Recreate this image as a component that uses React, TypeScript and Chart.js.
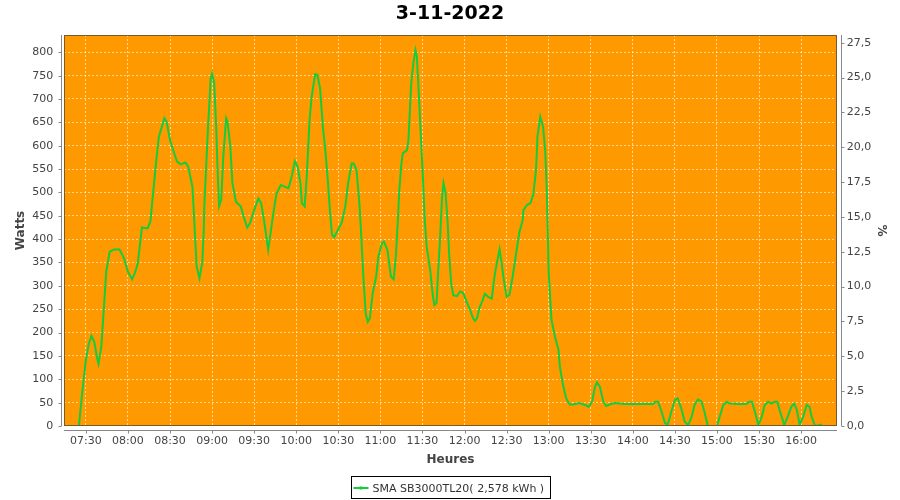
import React, { useEffect, useRef } from "react";
import { Chart, registerables } from "chart.js";

Chart.register(...registerables);

const TITLE = "3-11-2022";
const SERIES_LABEL = "SMA SB3000TL20( 2,578 kWh )";
const X_TITLE = "Heures";
const Y_TITLE = "Watts";
const Y2_TITLE = "%";

const TIMES = [
  "07:25", "07:27", "07:30", "07:32", "07:34", "07:36", "07:38", "07:39", "07:41", "07:43",
  "07:44:30", "07:47", "07:50", "07:54", "07:57", "08:00", "08:03", "08:05", "08:07", "08:10",
  "08:14", "08:16", "08:18", "08:20", "08:22", "08:26", "08:27:30", "08:30", "08:33", "08:35",
  "08:37:30", "08:41", "08:43", "08:46", "08:49", "08:51", "08:53", "08:54", "08:54:30", "08:57",
  "08:59", "09:00", "09:01:30", "09:03", "09:04", "09:05", "09:06:30", "09:08", "09:10", "09:11",
  "09:13", "09:14:30", "09:17", "09:20:30", "09:22:30", "09:25", "09:27", "09:30", "09:33", "09:35",
  "09:37", "09:40", "09:44", "09:46", "09:49", "09:52", "09:54:30", "09:57", "09:59", "10:01",
  "10:03", "10:04", "10:06", "10:07:30", "10:09:30", "10:11", "10:13:30", "10:15", "10:17", "10:19",
  "10:20:30", "10:22:30", "10:24", "10:25:30", "10:27", "10:30", "10:32:30", "10:35", "10:37", "10:39:30",
  "10:41", "10:43", "10:45", "10:46", "10:48", "10:49:30", "10:51", "10:52:30", "10:54:30", "10:57",
  "10:58:30", "11:01", "11:02:30", "11:05", "11:07:30", "11:09:30", "11:11", "11:12:30", "11:13:30", "11:15",
  "11:16", "11:19", "11:20", "11:22", "11:23:30", "11:25", "11:26", "11:27:30", "11:29", "11:30:30",
  "11:31:30", "11:33", "11:35:30", "11:37:30", "11:38:30", "11:40", "11:41", "11:42:30", "11:44", "11:45",
  "11:46:30", "11:48", "11:49", "11:50:30", "11:52", "11:54:30", "11:57", "11:59", "12:01:30", "12:04",
  "12:06", "12:07:30", "12:09", "12:10:30", "12:13", "12:14:30", "12:17", "12:19:30", "12:21", "12:23",
  "12:25", "12:26:30", "12:28", "12:30", "12:32", "12:34:30", "12:37", "12:39", "12:41:30", "12:42",
  "12:44:30", "12:47", "12:49", "12:51", "12:52", "12:54", "12:56", "12:57:30", "12:58:30", "12:59:30",
  "13:00", "13:02", "13:04:30", "13:07", "13:08", "13:10", "13:12:30", "13:15", "13:17:30", "13:22",
  "13:26", "13:28:30", "13:31", "13:33", "13:34:30", "13:36:30", "13:39", "13:41", "13:43:30", "13:47",
  "13:54", "14:01", "14:08", "14:14:30", "14:16", "14:18", "14:20:30", "14:23", "14:25", "14:27:30",
  "14:30", "14:32", "14:34:30", "14:37", "14:39:30", "14:42", "14:44", "14:46:30", "14:49", "14:51",
  "14:53:30", "15:00", "15:02", "15:04:30", "15:07", "15:09", "15:16", "15:21", "15:23", "15:25",
  "15:27", "15:29:30", "15:32", "15:34", "15:36:30", "15:39", "15:41", "15:43", "15:45", "15:48",
  "15:50:30", "15:53", "15:55", "15:57", "15:59", "16:01:30", "16:04", "16:06", "16:07:30", "16:10",
  "16:15",
];

const WATTS = [
  0, 60, 141, 175, 193, 180, 145, 133, 170, 260,
  330, 373, 378, 378, 360, 330, 314, 328, 348, 425,
  423, 438, 500, 562, 619, 659, 652, 612, 584, 566,
  560, 564, 555, 512, 341, 316, 350, 413, 473, 634,
  744, 754, 734, 634, 541, 470, 484, 577, 659, 652,
  598, 520, 480, 470, 448, 425, 434, 462, 487, 477,
  441, 377, 462, 498, 516, 512, 509, 537, 567, 555,
  520, 477, 470, 534, 655, 705, 753, 752, 723, 641,
  598, 527, 462, 409, 404, 421, 436, 470, 520, 562,
  562, 548, 477, 427, 313, 241, 223, 231, 284, 320,
  362, 390, 395, 377, 320, 314, 362, 441, 505, 562,
  584, 591, 612, 734, 776, 805, 791, 705, 612, 520,
  448, 384, 334, 277, 259, 263, 320, 398, 491, 520,
  498, 434, 370, 305, 280, 278, 288, 285, 266, 248,
  231, 225, 231, 252, 270, 283, 276, 273, 313, 348,
  378, 348, 313, 277, 280, 323, 373, 413, 441, 462,
  473, 477, 495, 548, 619, 662, 641, 591, 520, 400,
  330, 227, 191, 163, 127, 91, 59, 46, 46, 49,
  45, 41, 52, 84, 93, 84, 52, 43, 46, 49,
  47, 47, 47, 47, 52, 52, 31, 6, 4, 31,
  56, 59, 38, 9, 2, 20, 45, 57, 52, 31,
  0, 0, 20, 45, 52, 48, 47, 47, 52, 52,
  31, 2, 20, 45, 52, 48, 52, 52, 31, 2,
  20, 41, 48, 34, 2, 20, 45, 41, 20, 0,
  3,
];

const X_TICKS = [
  "07:30", "08:00", "08:30", "09:00", "09:30", "10:00", "10:30", "11:00", "11:30",
  "12:00", "12:30", "13:00", "13:30", "14:00", "14:30", "15:00", "15:30", "16:00",
];
const WATT_TICKS = [0, 50, 100, 150, 200, 250, 300, 350, 400, 450, 500, 550, 600, 650, 700, 750, 800];
const PCT_TICKS = [0, 2.5, 5, 7.5, 10, 12.5, 15, 17.5, 20, 22.5, 25, 27.5];
const WATT_MAX = 837;
const PCT_MAX = 28.05;

const FONT = "'DejaVu Sans', 'Verdana', sans-serif";
const PLOT_BG = "#FF9900";
const LINE_COLOR = "#14CC3C";
const TEXT_COLOR = "#444444";
const AXIS_COLOR = "#888888";

function toMin(s: string): number {
  const p = s.split(":").map(Number);
  return p[0] * 60 + p[1] + (p[2] || 0) / 60;
}
function fmtTime(v: number): string {
  const h = Math.floor(v / 60);
  const m = Math.round(v - h * 60);
  return String(h).padStart(2, "0") + ":" + String(m).padStart(2, "0");
}

const firstT = toMin(TIMES[0]);
const lastT = toMin(TIMES[TIMES.length - 1]);
const X_MARGIN = (lastT - firstT) * 0.02;

const decorPlugin = {
  id: "decor",
  beforeDraw(chart: any) {
    const { ctx, chartArea: a } = chart;
    ctx.save();
    ctx.fillStyle = "#ffffff";
    ctx.fillRect(0, 0, chart.width, chart.height);
    ctx.fillStyle = PLOT_BG;
    ctx.fillRect(a.left, a.top, a.right - a.left, a.bottom - a.top);
    ctx.restore();
  },
  afterDraw(chart: any) {
    const { ctx, chartArea: a, scales } = chart;
    ctx.save();
    // plot outline
    ctx.strokeStyle = "#7a5a2a";
    ctx.lineWidth = 1;
    ctx.strokeRect(Math.round(a.left) + 0.5, Math.round(a.top) + 0.5, Math.round(a.right - a.left) - 1, Math.round(a.bottom - a.top) - 1);
    // axis lines
    ctx.strokeStyle = AXIS_COLOR;
    const lx = Math.round(a.left) - 3 + 0.5;
    const rx = Math.round(a.right) + 4 + 0.5;
    const by = Math.round(a.bottom) + 4 + 0.5;
    ctx.beginPath();
    ctx.moveTo(lx, a.top);
    ctx.lineTo(lx, a.bottom);
    ctx.moveTo(rx, a.top);
    ctx.lineTo(rx, a.bottom);
    ctx.moveTo(a.left, by);
    ctx.lineTo(a.right, by);
    // tick marks
    for (const t of scales.y.ticks) {
      const y = Math.round(scales.y.getPixelForValue(t.value)) + 0.5;
      ctx.moveTo(lx - 3, y);
      ctx.lineTo(lx, y);
    }
    for (const t of scales.y1.ticks) {
      const y = Math.round(scales.y1.getPixelForValue(t.value)) + 0.5;
      ctx.moveTo(rx, y);
      ctx.lineTo(rx + 3, y);
    }
    for (const t of scales.x.ticks) {
      const x = Math.round(scales.x.getPixelForValue(t.value)) + 0.5;
      ctx.moveTo(x, by);
      ctx.lineTo(x, by + 3);
    }
    ctx.stroke();

    // legend
    const ds = chart.data.datasets[0];
    ctx.font = "11px " + FONT;
    const tw = ctx.measureText(ds.label).width;
    const boxW = Math.round(2 + 15 + 4 + tw + 6);
    const boxH = 22;
    const bx = Math.round(chart.width / 2 - boxW / 2) + 0.5;
    const byy = 476.5;
    ctx.strokeStyle = "#000000";
    ctx.lineWidth = 1;
    ctx.strokeRect(bx, byy, boxW, boxH);
    const cy = byy + boxH / 2 + 0.5;
    ctx.strokeStyle = ds.borderColor;
    ctx.lineWidth = 2;
    ctx.beginPath();
    ctx.moveTo(bx + 2, cy);
    ctx.lineTo(bx + 17, cy);
    ctx.stroke();
    ctx.fillStyle = ds.borderColor;
    ctx.fillRect(bx + 8, cy - 1.5, 3, 3);
    ctx.fillStyle = "#333333";
    ctx.textBaseline = "middle";
    ctx.textAlign = "left";
    ctx.fillText(ds.label, bx + 21, cy + 1);
    ctx.restore();
  },
};

export default function App() {
  const ref = useRef<HTMLCanvasElement | null>(null);

  useEffect(() => {
    if (!ref.current) return;
    const chart = new Chart(ref.current, {
      type: "line",
      data: {
        datasets: [
          {
            label: SERIES_LABEL,
            data: TIMES.map((t, i) => ({ x: toMin(t), y: WATTS[i] })),
            borderColor: LINE_COLOR,
            backgroundColor: LINE_COLOR,
            borderWidth: 2,
            pointRadius: 0,
            tension: 0,
            fill: false,
            xAxisID: "x",
            yAxisID: "y",
          },
        ],
      },
      options: {
        responsive: false,
        maintainAspectRatio: false,
        animation: false,
        devicePixelRatio: 1,
        layout: { padding: 0 },
        plugins: {
          legend: { display: false },
          tooltip: { enabled: false },
          title: {
            display: true,
            text: TITLE,
            color: "#000000",
            font: { family: FONT, size: 19, weight: "bold" },
            padding: { top: 2.2, bottom: 10 },
          },
        },
        scales: {
          x: {
            type: "linear",
            position: "bottom",
            min: firstT - X_MARGIN,
            max: lastT + X_MARGIN,
            afterBuildTicks: (s: any) => {
              s.ticks = X_TICKS.map((t) => ({ value: toMin(t) }));
            },
            afterFit: (s: any) => {
              s.height = 74;
            },
            ticks: {
              autoSkip: false,
              maxRotation: 0,
              padding: 8.4,
              color: TEXT_COLOR,
              font: { family: FONT, size: 11 },
              callback: (v: any) => fmtTime(Number(v)),
            },
            grid: { color: "rgba(255,255,255,0.6)", lineWidth: 1, drawTicks: false },
            border: { display: false, dash: [2, 2] },
            title: {
              display: true,
              text: X_TITLE,
              color: TEXT_COLOR,
              font: { family: FONT, size: 12, weight: "bold" },
              padding: { top: 0, bottom: 33 },
            },
          },
          y: {
            type: "linear",
            position: "left",
            min: 0,
            max: WATT_MAX,
            afterBuildTicks: (s: any) => {
              s.ticks = WATT_TICKS.map((v) => ({ value: v }));
            },
            afterFit: (s: any) => {
              s.width = 64;
            },
            ticks: {
              padding: 10.7,
              color: TEXT_COLOR,
              font: { family: FONT, size: 11 },
              callback: (v: any) => String(v),
            },
            grid: { color: "rgba(255,255,255,0.6)", lineWidth: 1, drawTicks: false },
            border: { display: false, dash: [2, 2] },
            title: {
              display: true,
              text: Y_TITLE,
              color: TEXT_COLOR,
              font: { family: FONT, size: 12, weight: "bold" },
              padding: { top: 14, bottom: 0 },
            },
          },
          y1: {
            type: "linear",
            position: "right",
            min: 0,
            max: PCT_MAX,
            afterBuildTicks: (s: any) => {
              s.ticks = PCT_TICKS.map((v) => ({ value: v }));
            },
            afterFit: (s: any) => {
              s.width = 63;
            },
            ticks: {
              padding: 9.7,
              color: TEXT_COLOR,
              font: { family: FONT, size: 11 },
              callback: (v: any) => Number(v).toFixed(1).replace(".", ","),
            },
            grid: { display: false, drawTicks: false },
            border: { display: false },
            title: {
              display: true,
              text: Y2_TITLE,
              color: TEXT_COLOR,
              font: { family: FONT, size: 12, weight: "bold" },
              padding: { top: 12, bottom: 0 },
            },
          },
        },
      },
      plugins: [decorPlugin],
    } as any);
    return () => chart.destroy();
  }, []);

  return (
    <div style={{ position: "absolute", left: 0, top: 0, width: 900, height: 500, background: "#fff" }}>
      <canvas ref={ref} width={900} height={500} style={{ display: "block", width: 900, height: 500 }} />
    </div>
  );
}
